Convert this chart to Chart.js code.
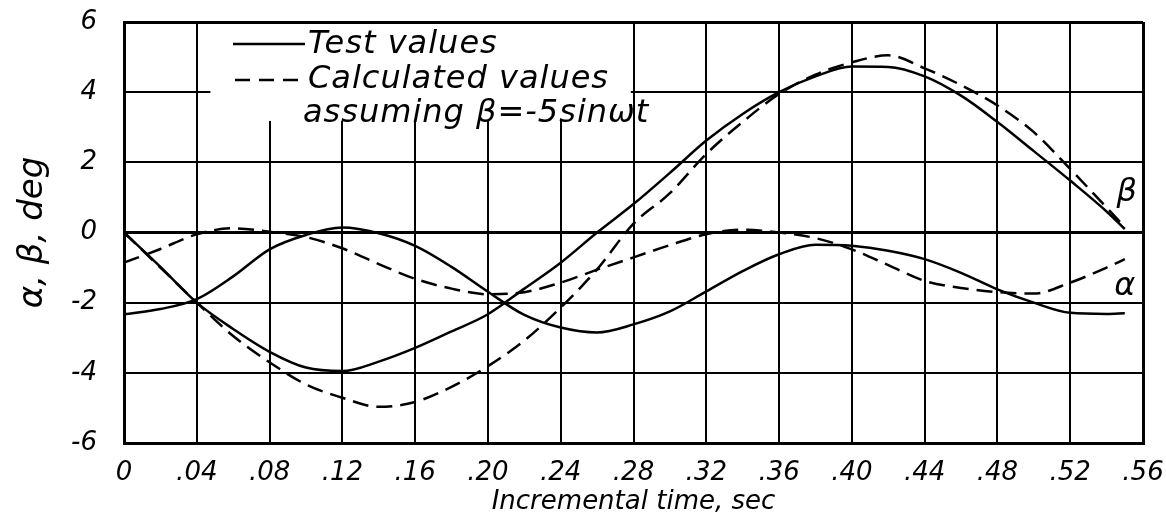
<!DOCTYPE html>
<html>
<head>
<meta charset="utf-8">
<script src="https://cdn.jsdelivr.net/npm/chart.js@4.4.1/dist/chart.umd.min.js"></script>
<style>
  html, body { margin: 0; padding: 0; background: #fff; }
</style>
</head>
<body>
<canvas id="grafico" width="1166" height="520"></canvas>
<script>
// --- DATA (time in s, angles in deg) ---
const tempi = [0, .02, .04, .06, .08, .10, .12, .14, .16, .18, .20, .22, .24, .26, .28,
               .30, .32, .34, .36, .38, .40, .42, .44, .46, .48, .50, .52, .54, .55];

const betaTest = [0, -0.98, -2.0, -2.75, -3.4, -3.85, -3.95, -3.68, -3.29, -2.82, -2.33, -1.6, -0.86, 0.0, 0.81,
                  1.7, 2.62, 3.38, 4.0, 4.45, 4.73, 4.72, 4.45, 3.9, 3.15, 2.32, 1.48, 0.6, 0.1];
const betaCalc = [0, -1.0, -2.0, -2.95, -3.7, -4.33, -4.71, -4.97, -4.83, -4.4, -3.81, -3.08, -2.14, -1.05, 0.25,
                  1.12, 2.24, 3.15, 3.95, 4.5, 4.85, 5.05, 4.68, 4.2, 3.62, 2.86, 1.81, 0.71, 0.15];
const alfaTest = [-2.33, -2.18, -1.9, -1.25, -0.48, -0.07, 0.14, -0.02, -0.38, -0.98, -1.69, -2.35, -2.71, -2.85, -2.62,
                  -2.25, -1.68, -1.1, -0.62, -0.35, -0.38, -0.52, -0.76, -1.15, -1.62, -2.0, -2.29, -2.32, -2.3];
const alfaCalc = [-0.86, -0.47, -0.05, 0.12, 0.02, -0.13, -0.45, -0.9, -1.32, -1.6, -1.76, -1.7, -1.43, -1.06, -0.71,
                  -0.36, -0.05, 0.08, 0.0, -0.16, -0.48, -0.93, -1.38, -1.58, -1.7, -1.74, -1.43, -1.0, -0.76];

// tick limits
const xMin = 0, xMax = 0.56, xStep = 0.04;
const yMin = -6, yMax = 6, yStep = 2;

const FONT = '"DejaVu Sans", sans-serif';
const serie = (vals) => tempi.map((t, i) => ({ x: t, y: vals[i] }));

// --- LEGEND PANEL AND CURVE LABELS ---
const annotazioni = {
  id: 'annotazioni',
  beforeDatasetsDraw(chart) {
    const { ctx, scales: { x, y } } = chart;
    // white panel behind the legend, grid hidden there
    const l = x.getPixelForValue(0.0475), r = x.getPixelForValue(0.2785);
    const t = y.getPixelForValue(6) + 2, b = y.getPixelForValue(3.18);
    ctx.save();
    ctx.fillStyle = '#fff';
    ctx.fillRect(l, t, r - l, b - t);
    ctx.restore();
  },
  afterDatasetsDraw(chart) {
    const { ctx, chartArea: a, scales: { x, y } } = chart;
    ctx.save();
    ctx.strokeStyle = '#000';
    ctx.fillStyle = '#000';
    ctx.lineWidth = 2.5;

    // solid sample
    ctx.beginPath();
    ctx.moveTo(a.left + 109, a.top + 22);
    ctx.lineTo(a.left + 181, a.top + 22);
    ctx.stroke();
    // dashed sample
    ctx.setLineDash([15, 9]);
    ctx.beginPath();
    ctx.moveTo(a.left + 111, a.top + 58);
    ctx.lineTo(a.left + 178, a.top + 58);
    ctx.stroke();
    ctx.setLineDash([]);

    ctx.font = 'italic 32px ' + FONT;
    ctx.letterSpacing = '1px';
    ctx.textBaseline = 'alphabetic';
    ctx.textAlign = 'left';
    ctx.fillText('Test values', a.left + 184, a.top + 31);
    ctx.fillText('Calculated values', a.left + 184, a.top + 66);
    ctx.fillText('assuming β=-5sinωt', a.left + 179, a.top + 100);
    ctx.letterSpacing = '0px';

    // curve names at the right end
    ctx.textAlign = 'center';
    ctx.textBaseline = 'middle';
    ctx.font = 'italic 32px ' + FONT;
    ctx.fillText('β', x.getPixelForValue(0.551), y.getPixelForValue(1.14));
    ctx.fillText('α', x.getPixelForValue(0.550), y.getPixelForValue(-1.54));
    ctx.restore();
  }
};

// --- CHART ---
const spessore = (c) => {
  const v = c.tick.value;
  if (c.scale.axis === 'y') return (v === 0 || v === yMin || v === yMax) ? 3 : 2;
  return (v === xMin || Math.abs(v - xMax) < 1e-9) ? 3 : 2;
};

const linea = (label, vals, tratteggio) => ({
  label: label,
  data: serie(vals),
  borderColor: '#000',
  borderWidth: 2.5,
  borderDash: tratteggio ? [16, 8] : [],
  pointRadius: 0,
  fill: false,
  cubicInterpolationMode: 'monotone'
});

const ctx = document.getElementById('grafico').getContext('2d');
const grafico = new Chart(ctx, {
  type: 'line',
  data: {
    datasets: [
      linea('β test', betaTest, false),
      linea('β calculated', betaCalc, true),
      linea('α test', alfaTest, false),
      linea('α calculated', alfaCalc, true)
    ]
  },
  options: {
    responsive: false,
    animation: false,
    layout: { padding: { top: 22, right: 23, left: 0, bottom: 0 } },
    plugins: { legend: { display: false }, tooltip: { enabled: false } },
    scales: {
      x: {
        type: 'linear',
        min: xMin,
        max: xMax,
        // fixed axis band; tick padding must not push the plot area
        afterFit: (s) => { s.height = 77; s.paddingLeft = 0; s.paddingRight = 0; },
        border: { display: true, color: '#000', width: 3 },
        grid: { color: '#000', lineWidth: spessore, drawTicks: false },
        ticks: {
          stepSize: xStep,
          padding: 15,
          color: '#000',
          maxRotation: 0,
          font: { family: FONT, size: 26, style: 'italic' },
          callback: (v) => v === 0 ? '0' : v.toFixed(2).replace(/^0/, '')
        },
        title: {
          display: true,
          text: 'Incremental time, sec',
          color: '#000',
          padding: { top: 0, bottom: 2 },
          font: { family: FONT, size: 26, style: 'italic' }
        }
      },
      y: {
        type: 'linear',
        min: yMin,
        max: yMax,
        afterFit: (s) => { s.width = 124; s.paddingTop = 0; s.paddingBottom = 0; },
        border: { display: true, color: '#000', width: 3 },
        grid: { color: '#000', lineWidth: spessore, drawTicks: false },
        ticks: {
          stepSize: yStep,
          padding: 27,
          color: '#000',
          font: { family: FONT, size: 26, style: 'italic' }
        },
        title: {
          display: true,
          text: 'α, β, deg',
          color: '#000',
          padding: { top: 13, bottom: 0 },
          font: { family: FONT, size: 34, style: 'italic' }
        }
      }
    }
  },
  plugins: [annotazioni]
});
</script>
</body>
</html>
